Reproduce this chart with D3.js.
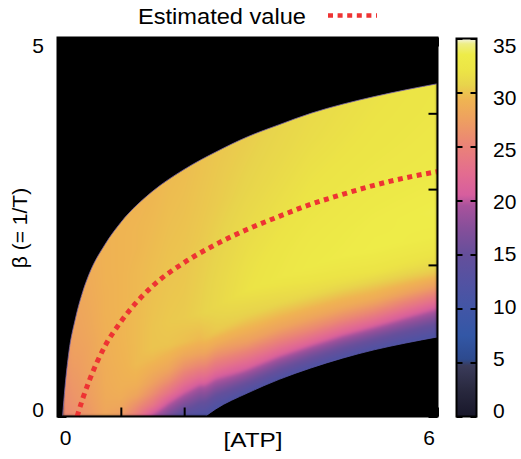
<!DOCTYPE html>
<html>
<head>
<meta charset="utf-8">
<script src="https://cdn.jsdelivr.net/npm/d3@7"></script>
<style>
  html, body { margin: 0; padding: 0; background: #fff; }
  svg { display: block; font-family: "Liberation Sans", Arial, Helvetica, sans-serif; }
</style>
</head>
<body>
<script>
// ---- data -------------------------------------------------------------
// Edge of the admissible region: upper limit of beta for each [ATP]
const upperATP  = [0.08, 0.12, 0.18, 0.28, 0.4, 0.5, 0.75, 1.0, 1.5, 2.0, 2.5, 3.0, 3.5, 4.0, 4.5, 5.0, 5.5, 6.0];
const upperBeta = [0.0, 0.40, 0.85, 1.28, 1.65, 1.88, 2.27, 2.56, 2.97, 3.26, 3.49, 3.69, 3.85, 4.00, 4.12, 4.22, 4.31, 4.39];
// Lower limit of beta (zero below [ATP] = 2.33)
const lowerATP  = [2.33, 2.5, 3.0, 3.5, 4.0, 4.5, 5.0, 5.5, 6.0];
const lowerBeta = [0.0, 0.10, 0.31, 0.49, 0.64, 0.77, 0.88, 0.97, 1.05];
// Estimated beta as a function of [ATP]
const estATP  = [0.31, 0.4, 0.5, 0.75, 1.0, 1.5, 2.0, 2.5, 3.0, 3.5, 4.0, 4.5, 5.0, 5.5, 6.0];
const estBeta = [0.0, 0.24, 0.47, 0.93, 1.25, 1.72, 2.03, 2.27, 2.47, 2.64, 2.80, 2.93, 3.05, 3.15, 3.23];

// Colour field, sampled per [ATP] column, at fractional heights between
// the lower limit (0) and the upper limit (1)
const fieldATP = [0.1, 0.25, 0.5, 0.75, 1.0, 1.25, 1.5, 1.75, 2.0, 2.25, 2.5, 3.0, 4.0, 5.0, 6.0];
const fieldFrac = [0, 0.05, 0.1, 0.15, 0.2, 0.25, 0.3, 0.4, 0.5, 0.6, 0.7, 0.8, 0.9, 1.0];
const fieldValues = [
  [25.4, 25.4, 25.5, 25.5, 25.6, 25.6, 25.7, 25.8, 25.8, 25.9, 26.0, 26.1, 26.2, 26.3],
  [25.8, 26.0, 26.2, 26.4, 26.5, 26.6, 26.7, 26.9, 27.1, 27.3, 27.5, 27.6, 27.7, 27.8],
  [26.8, 27.0, 27.2, 27.4, 27.5, 27.6, 27.7, 27.9, 28.0, 28.2, 28.3, 28.4, 28.5, 28.6],
  [28.0, 28.2, 28.4, 28.5, 28.6, 28.6, 28.7, 28.8, 28.9, 29.0, 29.0, 29.1, 29.1, 29.1],
  [27.0, 28.1, 28.6, 28.9, 29.0, 29.1, 29.2, 29.3, 29.3, 29.3, 29.3, 29.3, 29.3, 29.3],
  [24.2, 26.0, 27.9, 28.8, 29.3, 29.6, 29.6, 29.6, 29.6, 29.5, 29.5, 29.4, 29.4, 29.3],
  [19.5, 23.7, 26.0, 27.6, 28.6, 29.5, 30.0, 30.0, 29.9, 29.8, 29.7, 29.6, 29.5, 29.4],
  [16.0, 19.8, 23.5, 26.1, 28.0, 29.1, 30.0, 30.2, 30.1, 30.0, 29.9, 29.8, 29.7, 29.6],
  [12.5, 16.8, 20.7, 23.8, 26.3, 28.3, 29.8, 30.3, 30.2, 30.1, 30.0, 29.9, 29.8, 29.7],
  [11.8, 14.6, 18.4, 22.3, 25.5, 28.0, 29.5, 30.6, 30.5, 30.4, 30.2, 30.1, 30.0, 29.9],
  [11.5, 14.6, 18.9, 22.7, 25.7, 28.4, 30.2, 31.0, 30.9, 30.7, 30.5, 30.3, 30.2, 30.1],
  [11.8, 16.0, 21.0, 24.3, 27.4, 29.2, 30.5, 31.9, 31.7, 31.4, 31.1, 30.8, 30.6, 30.4],
  [12.0, 16.2, 21.6, 25.4, 28.1, 29.8, 31.3, 33.0, 32.7, 32.3, 32.0, 31.7, 31.4, 31.2],
  [11.9, 15.9, 21.3, 25.3, 28.5, 30.1, 31.8, 33.5, 33.3, 32.9, 32.5, 32.2, 32.0, 31.8],
  [11.5, 14.9, 19.2, 23.4, 27.3, 30.0, 31.5, 33.3, 33.6, 33.2, 32.8, 32.6, 32.4, 32.3]
];

// Palette
const paletteValues = [0, 2.5, 4.7, 5.3, 7.5, 10, 12.5, 15, 17.5, 19.5, 20.5, 22.5, 25, 27.5, 29.3, 30.7, 32, 33.5, 34.5, 35];
const paletteColors = ["#18172a", "#29293f", "#3a3b5a", "#2d4a8e", "#3357a6", "#4256a6", "#5352a2", "#654f9b",
                       "#874f9a", "#a8529c", "#d65e9e", "#e36c90", "#ea8278", "#eea060", "#efb452", "#e8d44c",
                       "#ece446", "#eeec48", "#eeee86", "#f4f4ea"];

// Axis ticks and labels
const xTicks = [0, 1, 2, 3, 4, 5, 6];
const yTicks = [0, 1, 2, 3, 4, 5];
const xTickLabels = [0, 6];
const yTickLabels = [0, 5];
const cbTicks = [0, 5, 10, 15, 20, 25, 30, 35];
const xTitle = "[ATP]";
const yTitle = "\u03b2 (= 1/T)";
const legendText = "Estimated value";

// ---- layout -----------------------------------------------------------
const W = 521, H = 459;
const pL = 57.5, pR = 437.5, pT = 37.5, pB = 416.5;
const cbL = 456.5, cbR = 476.5, cbT = 38.5, cbB = 416.5;
const FONT = 21;

const x = d3.scaleLinear().domain([0, 6]).range([pL, pR]);
const y = d3.scaleLinear().domain([0, 5]).range([pB, pT]);
const cbY = d3.scaleLinear().domain([0, 35]).range([cbB, cbT]);
// tick-label placement (labels sit slightly inside the tick ends)
const xLab = d3.scaleLinear().domain([0, 6]).range([65.5, 429]);
const yLab = d3.scaleLinear().domain([0, 5]).range([409.5, 45.5]);
const cbLab = d3.scaleLinear().domain([0, 35]).range([410.5, 45]);

const color = d3.scaleLinear().domain(paletteValues).range(paletteColors)
  .interpolate(d3.interpolateRgb).clamp(true);

const svg = d3.select("body").append("svg").attr("width", W).attr("height", H);

// ---- helpers ----------------------------------------------------------
function interp1(xs, ys, v) {
  if (v <= xs[0]) return ys[0];
  if (v >= xs[xs.length - 1]) return ys[ys.length - 1];
  const i = d3.bisectRight(xs, v) - 1;
  const f = (v - xs[i]) / (xs[i + 1] - xs[i]);
  return ys[i] + f * (ys[i + 1] - ys[i]);
}
function upperAt(a) { return a < upperATP[0] ? 0 : interp1(upperATP, upperBeta, a); }
function lowerAt(a) { return a < lowerATP[0] ? 0 : interp1(lowerATP, lowerBeta, a); }
function locate(xs, v) {
  const c = Math.max(xs[0], Math.min(xs[xs.length - 1], v));
  let i = d3.bisectRight(xs, c) - 1;
  if (i >= xs.length - 1) i = xs.length - 2;
  if (i < 0) i = 0;
  return [i, (c - xs[i]) / (xs[i + 1] - xs[i])];
}
function fieldAt(a, b) {
  const U = upperAt(a), L = lowerAt(a);
  if (U - L <= 1e-6) return null;
  const t = Math.max(0, Math.min(1, (b - L) / (U - L)));
  const [i, fx] = locate(fieldATP, a);
  const [j, fy] = locate(fieldFrac, t);
  const v00 = fieldValues[i][j], v01 = fieldValues[i][j + 1];
  const v10 = fieldValues[i + 1][j], v11 = fieldValues[i + 1][j + 1];
  return (v00 * (1 - fx) + v10 * fx) * (1 - fy) + (v01 * (1 - fx) + v11 * fx) * fy;
}

// ---- plot background --------------------------------------------------
svg.append("rect").attr("x", pL).attr("y", pT)
  .attr("width", pR - pL).attr("height", pB - pT).attr("fill", "#000");

// ---- heat map raster --------------------------------------------------
const pw = Math.round(pR - pL), ph = Math.round(pB - pT);
const raw = document.createElement("canvas");
raw.width = pw; raw.height = ph;
const rctx = raw.getContext("2d");
const img = rctx.createImageData(pw, ph);
for (let r = 0; r < ph; r++) {
  const b = y.invert(pT + r + 0.5);
  for (let c = 0; c < pw; c++) {
    const a = x.invert(pL + c + 0.5);
    const v = fieldAt(a, b);
    const k = (r * pw + c) * 4;
    if (v === null) { img.data[k + 3] = 255; continue; }
    const col = d3.rgb(color(v));
    img.data[k] = col.r; img.data[k + 1] = col.g; img.data[k + 2] = col.b; img.data[k + 3] = 255;
  }
}
rctx.putImageData(img, 0, 0);
// soften the sampled field slightly
const canvas = document.createElement("canvas");
canvas.width = pw; canvas.height = ph;
const ctx = canvas.getContext("2d");
ctx.filter = "blur(1.5px)";
ctx.drawImage(raw, 0, 0);

const upperPts = upperATP.map((a, i) => [a, upperBeta[i]]);
const lowerPts = lowerATP.map((a, i) => [a, lowerBeta[i]]);
const estPts = estATP.map((a, i) => [a, estBeta[i]]);

const defs = svg.append("defs");
defs.append("clipPath").attr("id", "region")
  .append("path")
  .attr("d", d3.area().x(d => x(d[0])).y0(y(0)).y1(d => y(d[1])).curve(d3.curveMonotoneX)(upperPts));

svg.append("image")
  .attr("x", pL).attr("y", pT).attr("width", pw).attr("height", ph)
  .attr("preserveAspectRatio", "none")
  .attr("href", canvas.toDataURL("image/png"))
  .attr("clip-path", "url(#region)");

// black area below the lower limit
svg.append("path")
  .attr("d", d3.area().x(d => x(d[0])).y0(y(0)).y1(d => y(d[1])).curve(d3.curveMonotoneX)(lowerPts))
  .attr("fill", "#000");

// thin edge lines of the region
const edge = d3.line().x(d => x(d[0])).y(d => y(d[1])).curve(d3.curveMonotoneX);
svg.append("path").attr("d", edge(upperPts)).attr("fill", "none")
  .attr("stroke", "#7a66aa").attr("stroke-width", 1).attr("stroke-opacity", 0.8);
svg.append("path").attr("d", edge(lowerPts)).attr("fill", "none")
  .attr("stroke", "#5a58a8").attr("stroke-width", 1).attr("stroke-opacity", 0.8);

// estimated curve
const RED = "#ee3333";
const DASH = "5,4.6";
svg.append("path").attr("d", edge(estPts)).attr("fill", "none")
  .attr("stroke", RED).attr("stroke-width", 5).attr("stroke-dasharray", DASH);

// ---- axes ---------------------------------------------------------------
function styleAxis(g) {
  g.select(".domain").remove();
  g.selectAll(".tick line").attr("stroke", "#000").attr("stroke-width", 2);
  g.selectAll(".tick text").remove();
}
svg.append("g").attr("transform", `translate(0,${pB})`)
  .call(d3.axisBottom(x).tickValues(xTicks).tickSize(-9).tickFormat("")).call(styleAxis);
svg.append("g").attr("transform", `translate(0,${pT})`)
  .call(d3.axisTop(x).tickValues(xTicks).tickSize(-9).tickFormat("")).call(styleAxis);
svg.append("g").attr("transform", `translate(${pL},0)`)
  .call(d3.axisLeft(y).tickValues(yTicks).tickSize(-9).tickFormat("")).call(styleAxis);
svg.append("g").attr("transform", `translate(${pR},0)`)
  .call(d3.axisRight(y).tickValues(yTicks).tickSize(-9).tickFormat("")).call(styleAxis);

svg.append("rect").attr("x", pL).attr("y", pT)
  .attr("width", pR - pL).attr("height", pB - pT)
  .attr("fill", "none").attr("stroke", "#000").attr("stroke-width", 2);

// tick labels
svg.append("g").selectAll("text").data(xTickLabels).join("text")
  .attr("x", d => xLab(d)).attr("y", 445)
  .attr("text-anchor", "middle").attr("font-size", FONT).text(d => d);
svg.append("g").selectAll("text").data(yTickLabels).join("text")
  .attr("x", 44).attr("y", d => yLab(d)).attr("dy", "0.36em")
  .attr("text-anchor", "end").attr("font-size", FONT).text(d => d);

// axis titles
svg.append("text").attr("x", 253).attr("y", 447).attr("text-anchor", "middle")
  .attr("font-size", FONT).attr("textLength", 59).attr("lengthAdjust", "spacingAndGlyphs")
  .text(xTitle);
svg.append("text").attr("transform", "translate(27,228) rotate(-90)")
  .attr("text-anchor", "middle").attr("font-size", FONT).text(yTitle);

// ---- colour bar -------------------------------------------------------
const grad = defs.append("linearGradient").attr("id", "cbgrad")
  .attr("x1", 0).attr("y1", 1).attr("x2", 0).attr("y2", 0);
grad.selectAll("stop").data(paletteValues).join("stop")
  .attr("offset", d => d / 35)
  .attr("stop-color", d => color(d));
svg.append("rect").attr("x", cbL).attr("y", cbT)
  .attr("width", cbR - cbL).attr("height", cbB - cbT)
  .attr("fill", "url(#cbgrad)").attr("stroke", "#000").attr("stroke-width", 2);
svg.append("g").attr("transform", `translate(${cbL},0)`)
  .call(d3.axisRight(cbY).tickValues(cbTicks).tickSize(6).tickFormat("")).call(styleAxis);
svg.append("g").attr("transform", `translate(${cbR},0)`)
  .call(d3.axisLeft(cbY).tickValues(cbTicks).tickSize(6).tickFormat("")).call(styleAxis);
svg.append("g").selectAll("text").data(cbTicks).join("text")
  .attr("x", 493).attr("y", d => cbLab(d)).attr("dy", "0.36em")
  .attr("font-size", FONT).text(d => d);

// ---- legend -------------------------------------------------------------
svg.append("text").attr("x", 138).attr("y", 23.5)
  .attr("font-size", FONT + 1).attr("textLength", 168).attr("lengthAdjust", "spacingAndGlyphs")
  .text(legendText);
svg.append("line").attr("x1", 328).attr("x2", 377).attr("y1", 15.5).attr("y2", 15.5)
  .attr("stroke", RED).attr("stroke-width", 4.5).attr("stroke-dasharray", DASH);
</script>
</body>
</html>
